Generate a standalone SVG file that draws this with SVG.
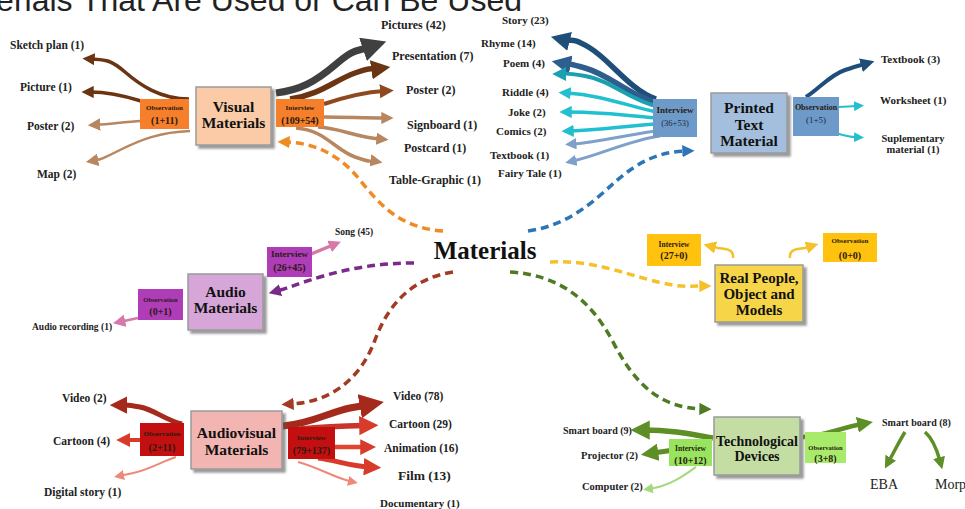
<svg xmlns="http://www.w3.org/2000/svg" width="965" height="509" viewBox="0 0 965 509">
<style>
.lbl{font-family:"Liberation Serif","Times New Roman",serif;font-weight:bold;fill:#222;}
.big{font-family:"Liberation Serif","Times New Roman",serif;font-weight:bold;fill:#111;text-anchor:middle;}
.sm{font-family:"Liberation Serif","Times New Roman",serif;font-weight:bold;text-anchor:middle;fill:#2a1a10;}
.box{stroke:#9a9a9a;stroke-width:1.5;filter:url(#sh);}
.c{fill:none;stroke-linecap:butt;}
.d{fill:none;stroke-width:3.5;stroke-dasharray:8 5;}
</style>
<defs>
<filter id="sh" x="-10%" y="-10%" width="130%" height="130%"><feDropShadow dx="3" dy="3" stdDeviation="1.2" flood-color="#555" flood-opacity="0.6"/></filter>
<marker id="a-gray" viewBox="0 0 10 10" refX="3" refY="5" markerWidth="3.5" markerHeight="3.5" orient="auto" markerUnits="strokeWidth"><path d="M0,0L10,5L0,10z" fill="#404040"/></marker>
<marker id="a-br1" viewBox="0 0 10 10" refX="3" refY="5" markerWidth="3.5" markerHeight="3.5" orient="auto" markerUnits="strokeWidth"><path d="M0,0L10,5L0,10z" fill="#6B3412"/></marker>
<marker id="a-br2" viewBox="0 0 10 10" refX="3" refY="5" markerWidth="3.5" markerHeight="3.5" orient="auto" markerUnits="strokeWidth"><path d="M0,0L10,5L0,10z" fill="#8E4A1E"/></marker>
<marker id="a-br3" viewBox="0 0 10 10" refX="3" refY="5" markerWidth="3.5" markerHeight="3.5" orient="auto" markerUnits="strokeWidth"><path d="M0,0L10,5L0,10z" fill="#B8865F"/></marker>
<marker id="a-br3t" viewBox="0 0 10 10" refX="3" refY="5" markerWidth="5" markerHeight="5" orient="auto" markerUnits="strokeWidth"><path d="M0,0L10,5L0,10z" fill="#B8865F"/></marker>
<marker id="a-or" viewBox="0 0 10 10" refX="3" refY="5" markerWidth="3.5" markerHeight="3.5" orient="auto" markerUnits="strokeWidth"><path d="M0,0L10,5L0,10z" fill="#F08A24"/></marker>
<marker id="a-nv" viewBox="0 0 10 10" refX="3" refY="5" markerWidth="3.5" markerHeight="3.5" orient="auto" markerUnits="strokeWidth"><path d="M0,0L10,5L0,10z" fill="#1F4E79"/></marker>
<marker id="a-nv2" viewBox="0 0 10 10" refX="3" refY="5" markerWidth="3.5" markerHeight="3.5" orient="auto" markerUnits="strokeWidth"><path d="M0,0L10,5L0,10z" fill="#2E5E8E"/></marker>
<marker id="a-tl" viewBox="0 0 10 10" refX="3" refY="5" markerWidth="3.5" markerHeight="3.5" orient="auto" markerUnits="strokeWidth"><path d="M0,0L10,5L0,10z" fill="#1AA0B0"/></marker>
<marker id="a-cy" viewBox="0 0 10 10" refX="3" refY="5" markerWidth="3.5" markerHeight="3.5" orient="auto" markerUnits="strokeWidth"><path d="M0,0L10,5L0,10z" fill="#22BFD0"/></marker>
<marker id="a-cyt" viewBox="0 0 10 10" refX="3" refY="5" markerWidth="5" markerHeight="5" orient="auto" markerUnits="strokeWidth"><path d="M0,0L10,5L0,10z" fill="#22BFD0"/></marker>
<marker id="a-lb" viewBox="0 0 10 10" refX="3" refY="5" markerWidth="3.8" markerHeight="3.8" orient="auto" markerUnits="strokeWidth"><path d="M0,0L10,5L0,10z" fill="#7FA1C9"/></marker>
<marker id="a-bl" viewBox="0 0 10 10" refX="3" refY="5" markerWidth="3.5" markerHeight="3.5" orient="auto" markerUnits="strokeWidth"><path d="M0,0L10,5L0,10z" fill="#2E75B6"/></marker>
<marker id="a-pk" viewBox="0 0 10 10" refX="3" refY="5" markerWidth="3.5" markerHeight="3.5" orient="auto" markerUnits="strokeWidth"><path d="M0,0L10,5L0,10z" fill="#D678AA"/></marker>
<marker id="a-pkt" viewBox="0 0 10 10" refX="3" refY="5" markerWidth="5" markerHeight="5" orient="auto" markerUnits="strokeWidth"><path d="M0,0L10,5L0,10z" fill="#D678AA"/></marker>
<marker id="a-pu" viewBox="0 0 10 10" refX="3" refY="5" markerWidth="3.5" markerHeight="3.5" orient="auto" markerUnits="strokeWidth"><path d="M0,0L10,5L0,10z" fill="#7B2A8A"/></marker>
<marker id="a-ye" viewBox="0 0 10 10" refX="3" refY="5" markerWidth="3.5" markerHeight="3.5" orient="auto" markerUnits="strokeWidth"><path d="M0,0L10,5L0,10z" fill="#F3C22A"/></marker>
<marker id="a-yet" viewBox="0 0 10 10" refX="3" refY="5" markerWidth="5" markerHeight="5" orient="auto" markerUnits="strokeWidth"><path d="M0,0L10,5L0,10z" fill="#F3C22A"/></marker>
<marker id="a-dr" viewBox="0 0 10 10" refX="3" refY="5" markerWidth="3.5" markerHeight="3.5" orient="auto" markerUnits="strokeWidth"><path d="M0,0L10,5L0,10z" fill="#A52A1C"/></marker>
<marker id="a-rd" viewBox="0 0 10 10" refX="3" refY="5" markerWidth="3.5" markerHeight="3.5" orient="auto" markerUnits="strokeWidth"><path d="M0,0L10,5L0,10z" fill="#D93B2B"/></marker>
<marker id="a-sat" viewBox="0 0 10 10" refX="3" refY="5" markerWidth="5" markerHeight="5" orient="auto" markerUnits="strokeWidth"><path d="M0,0L10,5L0,10z" fill="#EE8878"/></marker>
<marker id="a-rb" viewBox="0 0 10 10" refX="3" refY="5" markerWidth="3.5" markerHeight="3.5" orient="auto" markerUnits="strokeWidth"><path d="M0,0L10,5L0,10z" fill="#A33A24"/></marker>
<marker id="a-gn" viewBox="0 0 10 10" refX="3" refY="5" markerWidth="3.5" markerHeight="3.5" orient="auto" markerUnits="strokeWidth"><path d="M0,0L10,5L0,10z" fill="#5E8E26"/></marker>
<marker id="a-lgt" viewBox="0 0 10 10" refX="3" refY="5" markerWidth="5" markerHeight="5" orient="auto" markerUnits="strokeWidth"><path d="M0,0L10,5L0,10z" fill="#A6D67E"/></marker>
<marker id="a-gd" viewBox="0 0 10 10" refX="3" refY="5" markerWidth="3.5" markerHeight="3.5" orient="auto" markerUnits="strokeWidth"><path d="M0,0L10,5L0,10z" fill="#4F7B22"/></marker>
</defs>
<rect width="965" height="509" fill="#fff"/>
<text x="522" y="11" text-anchor="end" font-family="Liberation Sans, Arial, sans-serif" font-size="32" fill="#222">Materials That Are Used or Can Be Used</text>

<g id="connectors">
<path class="d" stroke="#F08A24" marker-end="url(#a-or)" d="M443 231 C400 228 380 205 360 180 C340 155 315 143 286 142"/>
<path class="d" stroke="#2E75B6" marker-end="url(#a-bl)" d="M528 231 C570 225 595 200 615 182 C640 160 660 152 686 151"/>
<path class="d" stroke="#7B2A8A" marker-end="url(#a-pu)" d="M414 263 C380 263 350 268 320 277 S292 287 277 291"/>
<path class="d" stroke="#F3C22A" marker-end="url(#a-ye)" d="M550 262 C590 260 620 272 650 280 S685 286 703 286"/>
<path class="d" stroke="#A33A24" marker-end="url(#a-rb)" d="M453 272 C415 278 390 300 375 340 C362 375 335 402 290 404"/>
<path class="d" stroke="#4F7B22" marker-end="url(#a-gd)" d="M510 272 C560 275 590 300 612 340 C635 385 660 408 703 409"/>
<path class="c" stroke="#6B3412" stroke-width="3.5" marker-end="url(#a-br1)" d="M189 99 C160 99 140 85 125 72 S105 60 91 59"/>
<path class="c" stroke="#6B3412" stroke-width="3.5" marker-end="url(#a-br1)" d="M141 101 C125 96 110 92 90 92"/>
<path class="c" stroke="#B8865F" stroke-width="2.5" marker-end="url(#a-br3t)" d="M141 121 C125 122 110 124 96.5 124.8"/>
<path class="c" stroke="#B8865F" stroke-width="2.5" marker-end="url(#a-br3t)" d="M190 131 C160 132 140 140 120 150 S100 159.5 94.5 160.5"/>
<path class="c" stroke="#404040" stroke-width="7" marker-end="url(#a-gray)" d="M276 93 C300 90 315 82 335 65 S355 52 370 47"/>
<path class="c" stroke="#6B3412" stroke-width="5.5" marker-end="url(#a-br1)" d="M290 99 C320 95 335 80 355 73 S370 70 377 69"/>
<path class="c" stroke="#8E4A1E" stroke-width="4" marker-end="url(#a-br2)" d="M324 104 C345 97 365 92 384 91"/>
<path class="c" stroke="#B8865F" stroke-width="3.5" marker-end="url(#a-br3)" d="M324 117 C345 117 365 118 385 118"/>
<path class="c" stroke="#B8865F" stroke-width="3.5" marker-end="url(#a-br3)" d="M318 127 C340 128 355 137 380 139"/>
<path class="c" stroke="#B8865F" stroke-width="3.5" marker-end="url(#a-br3)" d="M296 128 C325 130 335 150 355 157 S368 160 374 161"/>
<path class="c" stroke="#1F4E79" stroke-width="5.5" marker-end="url(#a-nv)" d="M656 99 C630 90 610 60 590 48 S572 42 564 40"/>
<path class="c" stroke="#2E5E8E" stroke-width="5.5" marker-end="url(#a-nv2)" d="M656 102 C630 96 610 75 585 68 S570 65 565 64"/>
<path class="c" stroke="#1AA0B0" stroke-width="4" marker-end="url(#a-tl)" d="M656 106 C630 100 610 80 585 76 S568 74 562 74"/>
<path class="c" stroke="#22BFD0" stroke-width="3.5" marker-end="url(#a-cy)" d="M656 112 C625 105 600 95 567 93"/>
<path class="c" stroke="#22BFD0" stroke-width="3.5" marker-end="url(#a-cy)" d="M656 118 C625 115 600 112 568 112"/>
<path class="c" stroke="#22BFD0" stroke-width="3.5" marker-end="url(#a-cy)" d="M656 124 C625 126 600 130 570 131"/>
<path class="c" stroke="#7FA1C9" stroke-width="3" marker-end="url(#a-lb)" d="M656 131 C625 135 600 142 573 144"/>
<path class="c" stroke="#7FA1C9" stroke-width="3" marker-end="url(#a-lb)" d="M660 136 C630 140 600 155 573 161"/>
<path class="c" stroke="#1F4E79" stroke-width="4" marker-end="url(#a-nv)" d="M806 97 C820 88 830 75 845 70 S858 66 865 64"/>
<path class="c" stroke="#22BFD0" stroke-width="2" marker-end="url(#a-cyt)" d="M839 107 L857 106"/>
<path class="c" stroke="#22BFD0" stroke-width="2" marker-end="url(#a-cyt)" d="M836 133 C845 136 850 137 857 137.3"/>
<path class="c" stroke="#D678AA" stroke-width="3.5" marker-end="url(#a-pk)" d="M306 256 L333 245"/>
<path class="c" stroke="#D678AA" stroke-width="2.5" marker-end="url(#a-pkt)" d="M138 318 L121.5 321.5"/>
<path class="c" stroke="#F3C22A" stroke-width="2.5" marker-end="url(#a-yet)" d="M733 258 C734 250 728 249 718 248 L712 246.5"/>
<path class="c" stroke="#F3C22A" stroke-width="2.5" marker-end="url(#a-yet)" d="M790 258 C789 250 795 249 805 248 L810 246.5"/>
<path class="c" stroke="#A52A1C" stroke-width="5" marker-end="url(#a-dr)" d="M182 424 C165 420 155 410 140 407 S128 405 122 405"/>
<path class="c" stroke="#D93B2B" stroke-width="4" marker-end="url(#a-rd)" d="M141 440 L126 440"/>
<path class="c" stroke="#EE8878" stroke-width="2" marker-end="url(#a-sat)" d="M176 457 C160 462 150 470 130 473.8 L121 475.6"/>
<path class="c" stroke="#A52A1C" stroke-width="7" marker-end="url(#a-dr)" d="M283 426 C310 424 330 412 350 408 L367 405"/>
<path class="c" stroke="#C8352A" stroke-width="5.5" marker-end="url(#a-rd)" d="M300 429 C320 427 340 426 365 425.5"/>
<path class="c" stroke="#E0432F" stroke-width="4.5" marker-end="url(#a-rd)" d="M334 447 L365 447"/>
<path class="c" stroke="#D93B2B" stroke-width="5" marker-end="url(#a-rd)" d="M318 458 C335 460 350 466 369 467"/>
<path class="c" stroke="#EE8878" stroke-width="2" marker-end="url(#a-sat)" d="M298 462 C320 468 335 478 351 481.5"/>
<path class="c" stroke="#5E8E26" stroke-width="5.5" marker-end="url(#a-gn)" d="M713 438 C690 434 670 430 644 430"/>
<path class="c" stroke="#5E8E26" stroke-width="5" marker-end="url(#a-gn)" d="M674 450 L653 453"/>
<path class="c" stroke="#A6D67E" stroke-width="2" marker-end="url(#a-lgt)" d="M696 467 C685 475 670 486 650 488.7"/>
<path class="c" stroke="#5E8E26" stroke-width="4.5" marker-end="url(#a-gn)" d="M803 437 C825 436 840 428 862 424"/>
<path class="c" stroke="#5E8E26" stroke-width="3.5" marker-end="url(#a-gn)" d="M905 432 C900 440 895 450 889 461"/>
<path class="c" stroke="#5E8E26" stroke-width="3.5" marker-end="url(#a-gn)" d="M925 432 C932 438 937 450 940 461"/>
</g>

<g id="materials">
<text x="485" y="259" class="big" font-size="25">Materials</text>
</g>

<g id="visual-materials">
<rect class="box" x="196" y="87" width="75" height="58" fill="#FACBA6"/>
<text class="big" x="233.5" y="112" font-size="15.5">Visual</text>
<text class="big" x="233.5" y="128" font-size="15.5">Materials</text>
</g>
<g id="visual-observation">
<rect x="140" y="99" width="49" height="30" fill="#F57F2A"/>
<text class="sm" x="164.5" y="110" font-size="7">Observation</text>
<text class="sm" x="164.5" y="124" font-size="10">(1+11)</text>
</g>
<g id="visual-interview">
<rect x="276" y="99" width="48" height="28" fill="#F57F2A"/>
<text class="sm" x="300" y="110" font-size="7">Interview</text>
<text class="sm" x="300" y="124" font-size="10">(109+54)</text>
</g>
<g id="visual-labels" class="lbl" font-size="11.5">
<text x="10" y="49">Sketch plan (1)</text>
<text x="20" y="91">Picture (1)</text>
<text x="27" y="130">Poster (2)</text>
<text x="37" y="178">Map (2)</text>
<text x="381" y="29" font-size="12">Pictures (42)</text>
<text x="392" y="60" font-size="12">Presentation (7)</text>
<text x="406" y="94" font-size="12">Poster (2)</text>
<text x="407" y="129" font-size="12">Signboard (1)</text>
<text x="404" y="152" font-size="12">Postcard (1)</text>
<text x="389" y="184" font-size="12">Table-Graphic (1)</text>
</g>

<g id="printed-text-material">
<rect class="box" x="711" y="93" width="76" height="60" fill="#A4BFDD"/>
<text class="big" x="749" y="113" font-size="15.5">Printed</text>
<text class="big" x="749" y="129.5" font-size="15.5">Text</text>
<text class="big" x="749" y="146" font-size="15.5">Material</text>
</g>
<g id="printed-interview">
<rect x="653" y="99" width="44" height="38" fill="#6E9ACA"/>
<text class="sm" x="675" y="113" font-size="9" fill="#1a2a45">Interview</text>
<text x="675" y="126" font-size="8.5" text-anchor="middle" font-family="Liberation Serif, serif" fill="#1a2a45">(36+53)</text>
</g>
<g id="printed-observation">
<rect x="793" y="97" width="46" height="39" fill="#6E9ACA"/>
<text class="sm" x="816" y="110" font-size="8" fill="#1a2a45">Observation</text>
<text x="816" y="123" font-size="9" text-anchor="middle" font-family="Liberation Serif, serif" fill="#1a2a45">(1+5)</text>
</g>
<g id="printed-labels" class="lbl" font-size="11">
<text x="502" y="24">Story (23)</text>
<text x="481" y="47">Rhyme (14)</text>
<text x="503" y="67">Poem (4)</text>
<text x="502" y="96">Riddle (4)</text>
<text x="508" y="116">Joke (2)</text>
<text x="496" y="135">Comics (2)</text>
<text x="490" y="159">Textbook (1)</text>
<text x="498" y="177">Fairy Tale (1)</text>
<text x="881" y="63">Textbook (3)</text>
<text x="880" y="104">Worksheet (1)</text>
<text x="913" y="142" text-anchor="middle" font-size="10.5">Suplementary</text>
<text x="913" y="153" text-anchor="middle" font-size="10.5">material (1)</text>
</g>

<g id="audio-materials">
<rect class="box" x="188" y="274" width="75" height="56" fill="#D6A6D8"/>
<text class="big" x="225.5" y="297" font-size="15.5">Audio</text>
<text class="big" x="225.5" y="313" font-size="15.5">Materials</text>
</g>
<g id="audio-interview">
<rect x="267" y="247" width="45" height="30" fill="#B03DB8"/>
<text class="sm" x="289.5" y="257" font-size="9">Interview</text>
<text class="sm" x="289.5" y="270.5" font-size="10">(26+45)</text>
</g>
<g id="audio-observation">
<rect x="138" y="289" width="45" height="31" fill="#B03DB8"/>
<text class="sm" x="160.5" y="302" font-size="6.5">Observation</text>
<text class="sm" x="160.5" y="314.5" font-size="10">(0+1)</text>
</g>
<g id="audio-labels" class="lbl" font-size="9.5">
<text x="335" y="235">Song (45)</text>
<text x="32" y="330">Audio recording (1)</text>
</g>

<g id="real-people">
<rect class="box" x="715" y="265" width="88" height="57" fill="#F6D54A"/>
<text class="big" x="759" y="283" font-size="15">Real People,</text>
<text class="big" x="759" y="299" font-size="15">Object and</text>
<text class="big" x="759" y="315" font-size="15">Models</text>
</g>
<g id="real-interview">
<rect x="647" y="234" width="54" height="32" fill="#FFC20E"/>
<text class="sm" x="674" y="246.5" font-size="7.5">Interview</text>
<text class="sm" x="674" y="259" font-size="10">(27+0)</text>
</g>
<g id="real-observation">
<rect x="823" y="233" width="54" height="29" fill="#FFC20E"/>
<text class="sm" x="850" y="242.5" font-size="7">Observation</text>
<text class="sm" x="850" y="258.5" font-size="10">(0+0)</text>
</g>

<g id="audiovisual-materials">
<rect class="box" x="191" y="411" width="91" height="58" fill="#F3B5B1"/>
<text class="big" x="236.5" y="438" font-size="15.5">Audiovisual</text>
<text class="big" x="236.5" y="455" font-size="15.5">Materials</text>
</g>
<g id="av-observation">
<rect x="140" y="423" width="44" height="33" fill="#C30F0F"/>
<text class="sm" x="162" y="435.5" font-size="7" fill="#2a0000">Observation</text>
<text class="sm" x="162" y="450.5" font-size="10" fill="#E86A5A">(2+11)</text>
</g>
<g id="av-interview">
<rect x="288" y="427" width="47" height="32" fill="#C30F0F"/>
<text class="sm" x="311.5" y="439.5" font-size="7" fill="#F0A090">Interview</text>
<text class="sm" x="311.5" y="454" font-size="10" fill="#F0A090">(79+137)</text>
</g>
<g id="av-labels" class="lbl" font-size="11.5">
<text x="62" y="402">Video (2)</text>
<text x="53" y="445">Cartoon (4)</text>
<text x="44" y="496">Digital story (1)</text>
<text x="393" y="400">Video (78)</text>
<text x="389" y="428">Cartoon (29)</text>
<text x="384" y="452">Animation (16)</text>
<text x="398" y="480" font-size="13.5">Film (13)</text>
<text x="380" y="507" font-size="11">Documentary (1)</text>
</g>

<g id="technological-devices">
<rect class="box" x="714" y="417" width="86" height="58" fill="#C3DDA2"/>
<text class="big" x="757" y="446" font-size="14">Technological</text>
<text class="big" x="757" y="461" font-size="14">Devices</text>
</g>
<g id="tech-interview">
<rect x="669" y="439" width="43" height="27" fill="#98E45E"/>
<text class="sm" x="690.5" y="450.5" font-size="7.5">Interview</text>
<text class="sm" x="690.5" y="464" font-size="10">(10+12)</text>
</g>
<g id="tech-observation">
<rect x="805" y="432" width="41" height="31" fill="#A8EB6B"/>
<text class="sm" x="825.5" y="449.5" font-size="6.5">Observation</text>
<text class="sm" x="825.5" y="461.5" font-size="10">(3+8)</text>
</g>
<g id="tech-labels" class="lbl" font-size="10">
<text x="563" y="434">Smart board (9)</text>
<text x="581" y="459" font-size="10.5">Projector (2)</text>
<text x="582" y="490" font-size="10.5">Computer (2)</text>
<text x="882" y="426">Smart board (8)</text>
<text x="870" y="489" font-size="14" font-weight="normal">EBA</text>
<text x="935" y="489" font-size="14" font-weight="normal">Morpa</text>
</g>
</svg>
